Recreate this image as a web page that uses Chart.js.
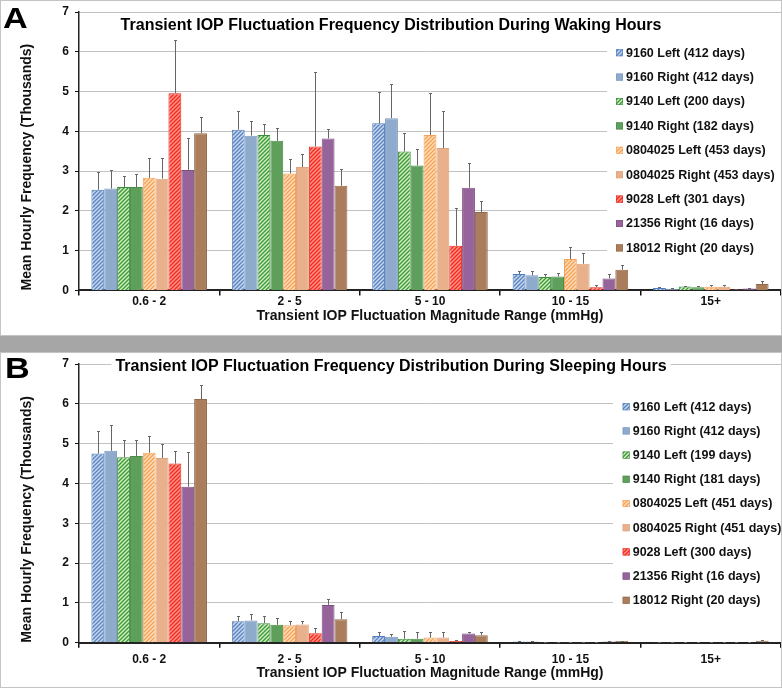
<!DOCTYPE html>
<html>
<head>
<meta charset="utf-8">
<script src="https://cdn.jsdelivr.net/npm/chart.js@4.4.0/dist/chart.umd.min.js"></script>
<style>
  html, body { margin: 0; padding: 0; background: #fff; }
  #wrap { position: relative; width: 782px; height: 688px; overflow: hidden; font-family: "Liberation Sans", Arial, sans-serif; }
  .panel { position: absolute; left: 0; width: 782px; height: 336px; }
  #panelA { top: 0; }
  #panelB { top: 352px; }
  #band { position: absolute; left: 0; top: 336px; width: 782px; height: 16px; background: #a6a6a6; }
  .frame { position: absolute; left: 0; width: 782px; height: 336px; border: 1px solid #c4c4c4; box-sizing: border-box; pointer-events: none; }
  .tag { position: absolute; font-weight: bold; font-size: 29px; line-height: 1; color: #000; transform: scaleX(1.18); transform-origin: left top; }
</style>
</head>
<body>
<div id="wrap">
  <div class="panel" id="panelA"><canvas id="chartA" width="782" height="336"></canvas></div>
  <div id="band"></div>
  <div class="panel" id="panelB"><canvas id="chartB" width="782" height="336"></canvas></div>
  <div class="frame" style="top:0"></div>
  <div class="frame" style="top:352px"></div>
  <div class="tag" style="left:3px;top:4px">A</div>
  <div class="tag" style="left:5px;top:354px">B</div>
</div>

<script>
// ---- data (values in thousands) ----
const ranges = ['0.6 - 2', '2 - 5', '5 - 10', '10 - 15', '15+'];

const wakeSeries = ['9160 Left (412 days)', '9160 Right (412 days)', '9140 Left (200 days)',
  '9140 Right (182 days)', '0804025 Left (453 days)', '0804025 Right (453 days)',
  '9028 Left (301 days)', '21356 Right (16 days)', '18012 Right (20 days)'];
const sleepSeries = ['9160 Left (412 days)', '9160 Right (412 days)', '9140 Left (199 days)',
  '9140 Right (181 days)', '0804025 Left (451 days)', '0804025 Right (451 days)',
  '9028 Left (300 days)', '21356 Right (16 days)', '18012 Right (20 days)'];

// one row per eye, one column per range
const wakeMean = [
  [2.53, 4.04, 4.20, 0.41, 0.06],
  [2.56, 3.89, 4.33, 0.38, 0.04],
  [2.60, 3.91, 3.49, 0.34, 0.10],
  [2.60, 3.76, 3.14, 0.35, 0.08],
  [2.83, 2.94, 3.91, 0.79, 0.09],
  [2.81, 3.10, 3.58, 0.67, 0.09],
  [4.96, 3.62, 1.12, 0.08, 0.02],
  [3.03, 3.82, 2.58, 0.30, 0.05],
  [3.95, 2.63, 1.97, 0.52, 0.16]
];
// top of each error bar
const wakeUpper = [
  [2.98, 4.51, 5.00, 0.50, 0.08],
  [3.02, 4.26, 5.18, 0.50, 0.06],
  [2.88, 4.19, 3.95, 0.42, 0.12],
  [2.92, 4.09, 3.56, 0.44, 0.11],
  [3.33, 3.31, 4.96, 1.10, 0.13],
  [3.33, 3.42, 4.52, 0.94, 0.13],
  [6.30, 5.50, 2.06, 0.13, 0.03],
  [3.82, 4.07, 3.20, 0.41, 0.07],
  [4.36, 3.04, 2.25, 0.65, 0.24]
];

const sleepMean = [
  [4.75, 0.54, 0.17, 0.03, 0.02],
  [4.82, 0.56, 0.15, 0.03, 0.02],
  [4.66, 0.49, 0.10, 0.02, 0.01],
  [4.69, 0.45, 0.10, 0.02, 0.01],
  [4.77, 0.44, 0.13, 0.02, 0.01],
  [4.64, 0.46, 0.13, 0.02, 0.01],
  [4.50, 0.24, 0.04, 0.01, 0.00],
  [3.92, 0.95, 0.23, 0.03, 0.01],
  [6.12, 0.59, 0.19, 0.04, 0.05]
];
const sleepUpper = [
  [5.31, 0.67, 0.26, 0.04, 0.03],
  [5.46, 0.73, 0.23, 0.04, 0.03],
  [5.08, 0.68, 0.29, 0.03, 0.02],
  [5.10, 0.63, 0.26, 0.03, 0.02],
  [5.19, 0.55, 0.26, 0.03, 0.02],
  [4.98, 0.55, 0.26, 0.03, 0.02],
  [4.81, 0.37, 0.08, 0.02, 0.01],
  [4.79, 1.11, 0.27, 0.04, 0.02],
  [6.47, 0.76, 0.26, 0.05, 0.07]
];

// ---- styles ----
const seriesStyle = [
  { hatch: ['#cbd9ee', '#5a84c2'], border: '#4f7fbf' },
  { fill: '#8eaacd', border: '#7c98c0' },
  { hatch: ['#d5efc3', '#3a9a3a'], border: '#3c8e3c' },
  { fill: '#5ea05b', border: '#4b8c48' },
  { hatch: ['#ffdfc0', '#f6a253'], border: '#f3a25a' },
  { fill: '#e8b08b', border: '#dea47e' },
  { hatch: ['#ff958b', '#f42a1e'], border: '#e5281c' },
  { fill: '#96649a', border: '#7d4f82' },
  { fill: '#aa7e5c', border: '#94694a' }
];
const FONT = '"Liberation Sans", Arial, sans-serif';

function hatch(ctx, bg, fg) {
  const c = document.createElement('canvas');
  c.width = 4; c.height = 4;
  const g = c.getContext('2d');
  g.fillStyle = bg;
  g.fillRect(0, 0, 4, 4);
  g.strokeStyle = fg;
  g.lineWidth = 1.4;
  g.beginPath();
  g.moveTo(0, 4); g.lineTo(4, 0);
  g.moveTo(-1, 1); g.lineTo(1, -1);
  g.moveTo(3, 5); g.lineTo(5, 3);
  g.stroke();
  return ctx.createPattern(c, 'repeat');
}

// error bars, title and legend drawn over the plot
const overlay = {
  id: 'overlay',
  afterDatasetsDraw(chart, args, opts) {
    const ctx = chart.ctx, y = chart.scales.y;
    ctx.save();
    ctx.strokeStyle = '#666';
    ctx.lineWidth = 1;
    opts.upper.forEach((row, i) => {
      const meta = chart.getDatasetMeta(i);
      row.forEach((u, j) => {
        const bar = meta.data[j];
        const x = Math.round(bar.x) + 0.5;
        const yt = Math.round(y.getPixelForValue(u)) + 0.5;
        ctx.beginPath();
        ctx.moveTo(x, bar.y);
        ctx.lineTo(x, yt);
        ctx.moveTo(x - 1.5, yt);
        ctx.lineTo(x + 1.5, yt);
        ctx.stroke();
      });
    });
    ctx.restore();
  },
  afterDraw(chart, args, opts) {
    const ctx = chart.ctx;
    ctx.save();
    // title
    ctx.font = 'bold 16px ' + FONT;
    const tw = ctx.measureText(opts.title).width;
    ctx.fillStyle = '#fff';
    ctx.fillRect(opts.titleX - tw / 2 - 4, opts.titleY - 11, tw + 8, 22);
    ctx.fillStyle = '#000';
    ctx.textAlign = 'center';
    ctx.textBaseline = 'middle';
    ctx.fillText(opts.title, opts.titleX, opts.titleY);
    // legend
    const lg = opts.legend;
    ctx.fillStyle = '#fff';
    ctx.fillRect(lg.bgX, lg.bgTop, 782 - lg.bgX, lg.bgBottom - lg.bgTop);
    ctx.font = 'bold 12.5px ' + FONT;
    ctx.textAlign = 'left';
    chart.data.datasets.forEach((ds, i) => {
      const yy = lg.y + i * lg.gap;
      ctx.fillStyle = ds.backgroundColor;
      ctx.fillRect(lg.x, yy - 3.5, 7, 7);
      ctx.strokeStyle = ds.borderColor;
      ctx.lineWidth = 0.6;
      ctx.strokeRect(lg.x + 0.3, yy - 3.2, 6.4, 6.4);
      ctx.fillStyle = '#111';
      ctx.fillText(ds.label, lg.x + 10, yy + 0.5);
    });
    ctx.restore();
  }
};

function makeChart(id, names, means, upper, title, lay) {
  const ctx = document.getElementById(id).getContext('2d');
  return new Chart(ctx, {
    type: 'bar',
    data: {
      labels: ranges,
      datasets: names.map((name, i) => ({
        label: name,
        data: means[i],
        backgroundColor: seriesStyle[i].hatch
          ? hatch(ctx, seriesStyle[i].hatch[0], seriesStyle[i].hatch[1])
          : seriesStyle[i].fill,
        borderColor: seriesStyle[i].border,
        borderWidth: 1,
        categoryPercentage: 0.823,
        barPercentage: 1.0
      }))
    },
    options: {
      responsive: false,
      animation: false,
      layout: { padding: { top: lay.top, right: 1, left: 0, bottom: 0 } },
      plugins: {
        legend: { display: false },
        tooltip: { enabled: false },
        overlay: { upper: upper, title: title, titleX: 391, titleY: lay.titleY, legend: lay.legend }
      },
      scales: {
        x: {
          grid: { display: true, drawOnChartArea: false, offset: true, tickLength: 5, tickColor: '#111', lineWidth: 1.5 },
          border: { color: '#222', width: 2 },
          ticks: { font: { family: FONT, size: 12, weight: 'bold', lineHeight: 1 }, color: '#111', padding: lay.xTickPad },
          title: {
            display: true,
            text: 'Transient IOP Fluctuation Magnitude Range (mmHg)',
            font: { family: FONT, size: 14, weight: 'bold', lineHeight: 1.2 },
            color: '#111',
            padding: { top: 0, bottom: lay.xTitlePad }
          },
          afterFit: s => { s.height = lay.xHeight; }
        },
        y: {
          min: 0,
          max: 7,
          ticks: { stepSize: 1, font: { family: FONT, size: 12, weight: 'bold', lineHeight: 1 }, color: '#111', padding: 6 },
          grid: { color: '#c2c2c2', tickLength: 4, tickColor: '#111' },
          border: { color: '#222', width: 1.5 },
          title: {
            display: true,
            align: 'start',
            text: 'Mean Hourly Frequency (Thousands)',
            font: { family: FONT, size: 14, weight: 'bold', lineHeight: 1.2 },
            color: '#111',
            padding: { top: 18.6, bottom: 0 }
          },
          afterFit: s => { s.width = 79; }
        }
      }
    },
    plugins: [overlay]
  });
}

makeChart('chartA', wakeSeries, wakeMean, wakeUpper,
  'Transient IOP Fluctuation Frequency Distribution During Waking Hours',
  { top: 7, xHeight: 45.6, xTickPad: 0, xTitlePad: 11.6, titleY: 26,
    legend: { x: 616, y: 52.7, gap: 24.4, bgX: 607, bgTop: 38, bgBottom: 258 } });

makeChart('chartB', sleepSeries, sleepMean, sleepUpper,
  'Transient IOP Fluctuation Frequency Distribution During Sleeping Hours',
  { top: 8, xHeight: 45.3, xTickPad: 5.5, xTitlePad: 6.6, titleY: 14.7,
    legend: { x: 622.7, y: 54.7, gap: 24.2, bgX: 613, bgTop: 40, bgBottom: 258 } });
</script>
</body>
</html>
